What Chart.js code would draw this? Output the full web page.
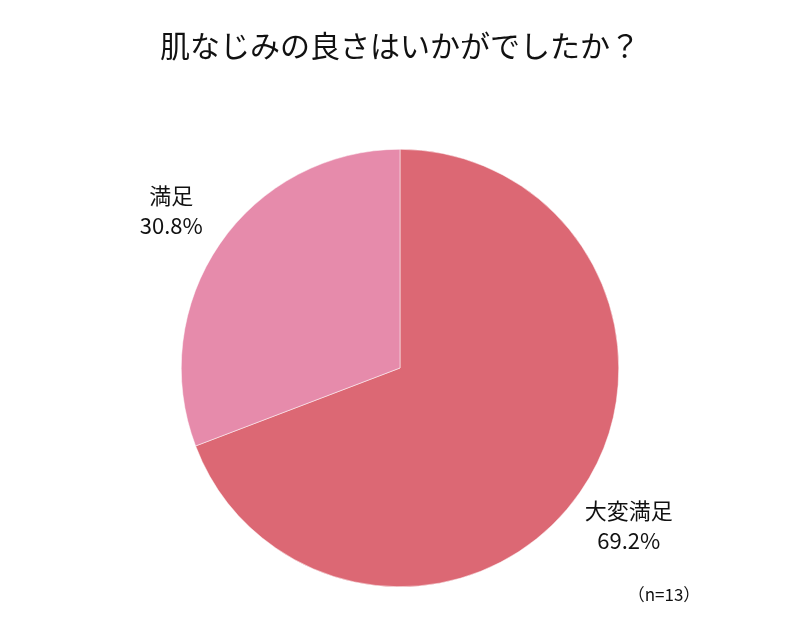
<!DOCTYPE html>
<html>
<head>
<meta charset="utf-8">
<script src="https://cdn.jsdelivr.net/npm/chart.js@4"></script>
<style>
  html, body { margin: 0; padding: 0; background: #fff; }
  #wrap { width: 800px; height: 626px; }
</style>
</head>
<body>
<div id="wrap"><canvas id="chart"></canvas></div>
<script>
const title = '肌なじみの良さはいかがでしたか？';
const labels = ['大変満足', '満足'];
const values = [69.2, 30.8];
const colors = ['#dc6874', '#e68bab'];
const note = '（n=13）';

const FONT = '"Noto Sans CJK JP", "Liberation Sans", sans-serif';

// タイトル・ラベル・注記を描く
const textPlugin = {
    id: 'texts',
    afterDraw(chart) {
        const { ctx } = chart;
        ctx.save();
        ctx.fillStyle = '#111';
        ctx.textAlign = 'center';
        ctx.textBaseline = 'middle';
        ctx.font = `30px ${FONT}`;
        ctx.fillText(title, 400, 46);

        const meta = chart.getDatasetMeta(0);
        meta.data.forEach((arc, i) => {
            const mid = (arc.startAngle + arc.endAngle) / 2;
            const r = arc.outerRadius * 1.27;
            const x = arc.x + Math.cos(mid) * r;
            const y = arc.y + Math.sin(mid) * r;
            ctx.font = `22px ${FONT}`;
            ctx.fillText(labels[i], x, y - 15);
            ctx.fillText(values[i].toFixed(1) + '%', x, y + 15);
        });

        ctx.font = `17px ${FONT}`;
        ctx.fillText(note, 664, 595);
        ctx.restore();
    },
};

new Chart(document.getElementById('chart'), {
    type: 'pie',
    data: {
        labels,
        datasets: [{
            data: values,
            backgroundColor: colors,
            borderColor: '#ffffff',
            borderWidth: 0.5,
        }],
    },
    options: {
        responsive: true,
        maintainAspectRatio: false,
        animation: false,
        layout: { padding: { top: 149, bottom: 39 } },
        plugins: {
            legend: { display: false },
            tooltip: { enabled: false },
        },
    },
    plugins: [textPlugin],
});
</script>
</body>
</html>
